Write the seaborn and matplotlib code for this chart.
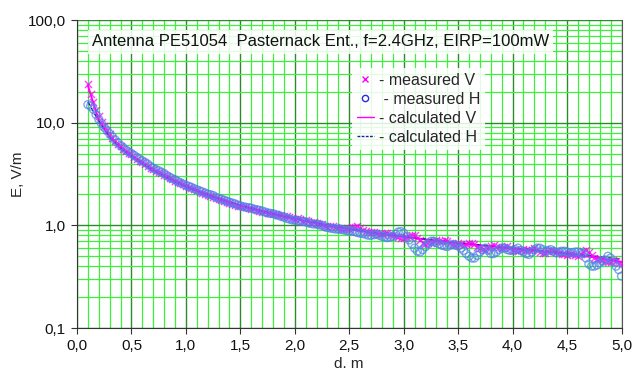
import numpy as np
import pandas as pd
import matplotlib
matplotlib.use("Agg")
import matplotlib.pyplot as plt
from matplotlib.lines import Line2D
from matplotlib.ticker import FixedLocator, LogLocator, NullFormatter
import seaborn as sns

# Measurement positions, m
distance = [
    0.100, 0.125, 0.150, 0.175, 0.200, 0.225, 0.250, 0.275, 0.300, 0.325,
    0.350, 0.375, 0.400, 0.425, 0.450, 0.475, 0.500, 0.525, 0.550, 0.575,
    0.600, 0.625, 0.650, 0.675, 0.700, 0.725, 0.750, 0.775, 0.800, 0.825,
    0.850, 0.875, 0.900, 0.925, 0.950, 0.975, 1.000, 1.025, 1.050, 1.075,
    1.100, 1.125, 1.150, 1.175, 1.200, 1.225, 1.250, 1.275, 1.300, 1.325,
    1.350, 1.375, 1.400, 1.425, 1.450, 1.475, 1.500, 1.525, 1.550, 1.575,
    1.600, 1.625, 1.650, 1.675, 1.700, 1.725, 1.750, 1.775, 1.800, 1.825,
    1.850, 1.875, 1.900, 1.925, 1.950, 1.975, 2.000, 2.025, 2.050, 2.075,
    2.100, 2.125, 2.150, 2.175, 2.200, 2.225, 2.250, 2.275, 2.300, 2.325,
    2.350, 2.375, 2.400, 2.425, 2.450, 2.475, 2.500, 2.525, 2.550, 2.575,
    2.600, 2.625, 2.650, 2.675, 2.700, 2.725, 2.750, 2.775, 2.800, 2.825,
    2.850, 2.875, 2.900, 2.925, 2.950, 2.975, 3.000, 3.025, 3.050, 3.075,
    3.100, 3.125, 3.150, 3.175, 3.200, 3.225, 3.250, 3.275, 3.300, 3.325,
    3.350, 3.375, 3.400, 3.425, 3.450, 3.475, 3.500, 3.525, 3.550, 3.575,
    3.600, 3.625, 3.650, 3.675, 3.700, 3.725, 3.750, 3.775, 3.800, 3.825,
    3.850, 3.875, 3.900, 3.925, 3.950, 3.975, 4.000, 4.025, 4.050, 4.075,
    4.100, 4.125, 4.150, 4.175, 4.200, 4.225, 4.250, 4.275, 4.300, 4.325,
    4.350, 4.375, 4.400, 4.425, 4.450, 4.475, 4.500, 4.525, 4.550, 4.575,
    4.600, 4.625, 4.650, 4.675, 4.700, 4.725, 4.750, 4.775, 4.800, 4.825,
    4.850, 4.875, 4.900, 4.925, 4.950, 4.975, 5.000,
]

# Measured field strength, V/m (vertical polarisation)
measured_v = [
    24.0, 19.0, 16.0, 13.2, 11.5, 10.2, 9.2, 8.4, 7.7, 7.1,
    6.6, 6.2, 5.9, 5.55, 5.3, 5.05, 4.9, 4.65, 4.45, 4.25,
    4.1, 3.95, 3.8, 3.65, 3.5, 3.4, 3.3, 3.2, 3.1, 3.0,
    2.9, 2.8, 2.72, 2.65, 2.58, 2.5, 2.42, 2.36, 2.3, 2.25,
    2.2, 2.13, 2.08, 2.03, 1.98, 1.93, 1.88, 1.84, 1.8, 1.77,
    1.74, 1.7, 1.66, 1.61, 1.58, 1.56, 1.53, 1.52, 1.5, 1.47,
    1.44, 1.44, 1.42, 1.38, 1.36, 1.35, 1.33, 1.31, 1.3, 1.29,
    1.27, 1.25, 1.24, 1.22, 1.2, 1.17, 1.16, 1.17, 1.14, 1.11,
    1.12, 1.09, 1.06, 1.07, 1.05, 1.04, 1.02, 0.99, 0.97, 0.99,
    0.98, 0.96, 0.95, 0.93, 0.92, 0.94, 0.93, 0.97, 0.96, 0.98,
    0.95, 0.9, 0.88, 0.87, 0.86, 0.87, 0.85, 0.83, 0.82, 0.85,
    0.84, 0.81, 0.8, 0.78, 0.77, 0.75, 0.76, 0.77, 0.78, 0.81,
    0.8, 0.76, 0.72, 0.68, 0.66, 0.67, 0.68, 0.7, 0.72, 0.71,
    0.7, 0.72, 0.71, 0.68, 0.66, 0.65, 0.67, 0.66, 0.64, 0.66,
    0.68, 0.67, 0.66, 0.62, 0.6, 0.59, 0.58, 0.6, 0.63, 0.64,
    0.62, 0.61, 0.6, 0.61, 0.63, 0.6, 0.58, 0.57, 0.56, 0.58,
    0.59, 0.58, 0.57, 0.58, 0.6, 0.57, 0.55, 0.54, 0.54, 0.56,
    0.57, 0.56, 0.55, 0.54, 0.53, 0.52, 0.51, 0.52, 0.52, 0.51,
    0.5, 0.53, 0.56, 0.57, 0.55, 0.51, 0.48, 0.47, 0.47, 0.46,
    0.45, 0.44, 0.44, 0.46, 0.45, 0.43, 0.42,
]

# Measured field strength, V/m (horizontal polarisation)
measured_h = [
    15.0, 14.5, 13.5, 12.0, 10.8, 9.8, 9.0, 8.4, 7.8, 7.3,
    6.8, 6.4, 6.0, 5.7, 5.4, 5.2, 5.0, 4.8, 4.6, 4.4,
    4.25, 4.1, 3.95, 3.75, 3.6, 3.5, 3.4, 3.3, 3.2, 3.05,
    2.95, 2.85, 2.78, 2.68, 2.6, 2.52, 2.45, 2.4, 2.35, 2.28,
    2.22, 2.17, 2.12, 2.07, 2.02, 1.99, 1.95, 1.88, 1.83, 1.8,
    1.76, 1.72, 1.68, 1.65, 1.62, 1.58, 1.55, 1.52, 1.5, 1.49,
    1.47, 1.44, 1.42, 1.4, 1.38, 1.35, 1.32, 1.31, 1.3, 1.27,
    1.25, 1.22, 1.2, 1.17, 1.15, 1.13, 1.12, 1.11, 1.1, 1.09,
    1.08, 1.06, 1.04, 1.03, 1.03, 1.01, 1.0, 0.97, 0.95, 0.94,
    0.93, 0.92, 0.92, 0.91, 0.9, 0.89, 0.88, 0.88, 0.87, 0.85,
    0.84, 0.83, 0.82, 0.8, 0.8, 0.81, 0.82, 0.8, 0.78, 0.77,
    0.76, 0.77, 0.78, 0.82, 0.86, 0.87, 0.84, 0.78, 0.72, 0.66,
    0.6, 0.56, 0.55, 0.58, 0.62, 0.66, 0.7, 0.7, 0.68, 0.66,
    0.64, 0.63, 0.62, 0.64, 0.65, 0.64, 0.63, 0.6, 0.57, 0.53,
    0.5, 0.48, 0.48, 0.51, 0.55, 0.58, 0.6, 0.57, 0.53, 0.53,
    0.55, 0.58, 0.6, 0.6, 0.58, 0.57, 0.57, 0.58, 0.6, 0.57,
    0.55, 0.53, 0.52, 0.55, 0.58, 0.6, 0.6, 0.58, 0.56, 0.57,
    0.58, 0.56, 0.54, 0.55, 0.56, 0.56, 0.55, 0.54, 0.54, 0.55,
    0.55, 0.54, 0.53, 0.48, 0.42, 0.4, 0.4, 0.41, 0.43, 0.45,
    0.46, 0.5, 0.48, 0.44, 0.4, 0.37, 0.32,
]

# Calculated field strength, V/m
calc_distance = [
    0.1, 0.2, 0.3, 0.4, 0.5, 0.6, 0.7, 0.8, 0.9, 1.0,
    1.1, 1.2, 1.3, 1.4, 1.5, 1.6, 1.7, 1.8, 1.9, 2.0,
    2.1, 2.2, 2.3, 2.4, 2.5, 2.6, 2.7, 2.8, 2.9, 3.0,
    3.1, 3.2, 3.3, 3.4, 3.5, 3.6, 3.7, 3.8, 3.9, 4.0,
    4.1, 4.2, 4.3, 4.4, 4.5, 4.6, 4.7, 4.8, 4.9, 5.0,
]
calc_v = [
    23.0, 10.5, 7.2, 5.6, 4.7, 3.95, 3.4, 3.0, 2.65, 2.38,
    2.17, 1.98, 1.82, 1.68, 1.56, 1.46, 1.37, 1.29, 1.22, 1.16,
    1.10, 1.05, 1.00, 0.96, 0.92, 0.885, 0.855, 0.825, 0.80, 0.775,
    0.75, 0.73, 0.71, 0.69, 0.67, 0.655, 0.64, 0.625, 0.61, 0.595,
    0.58, 0.57, 0.555, 0.54, 0.525, 0.51, 0.495, 0.48, 0.46, 0.44,
]
calc_h = [
    16.0, 10.3, 7.3, 5.7, 4.75, 4.0, 3.45, 3.03, 2.68, 2.4,
    2.18, 1.99, 1.83, 1.69, 1.57, 1.47, 1.38, 1.30, 1.23, 1.17,
    1.11, 1.06, 1.01, 0.97, 0.93, 0.89, 0.86, 0.83, 0.805, 0.78,
    0.755, 0.735, 0.715, 0.695, 0.675, 0.66, 0.645, 0.63, 0.615, 0.60,
    0.59, 0.575, 0.56, 0.55, 0.535, 0.52, 0.51, 0.495, 0.48, 0.465,
]

x_ticks = [0.0, 0.5, 1.0, 1.5, 2.0, 2.5, 3.0, 3.5, 4.0, 4.5, 5.0]
x_tick_labels = ["0,0", "0,5", "1,0", "1,5", "2,0", "2,5", "3,0", "3,5", "4,0", "4,5", "5,0"]
y_ticks = [0.1, 1.0, 10.0, 100.0]
y_tick_labels = ["0,1", "1,0", "10,0", "100,0"]

title_text = "Antenna PE51054  Pasternack Ent., f=2.4GHz, EIRP=100mW"

MAGENTA = "#ff00ff"
BLUE_PTS = "#4f80e8"
NAVY = "#1c1c9c"
GRID_MINOR = "#3cf03c"
GRID_MAJOR = "#2c8c2c"

sns.set_style("white")
plt.rcParams["font.family"] = ["Liberation Sans", "DejaVu Sans"]

meas = pd.DataFrame({"d": distance, "V": measured_v, "H": measured_h})
calc = pd.DataFrame({"d": calc_distance, "V": calc_v, "H": calc_h})

fig = plt.figure(figsize=(6.35, 3.76), dpi=100)
ax = fig.add_axes([77 / 635, 1 - 328 / 376, (621.5 - 77) / 635, (328 - 20) / 376])
ax.set_yscale("log")

# Calculated curves underneath, measured points on top
sns.lineplot(data=calc, x="d", y="V", color=MAGENTA, linewidth=1.4, ax=ax,
             zorder=2, legend=False)
sns.lineplot(data=calc, x="d", y="H", color=NAVY, linewidth=1.0,
             linestyle=(0, (3, 2)), ax=ax, zorder=2, legend=False)
sns.scatterplot(data=meas, x="d", y="V", marker="x", s=26, color=MAGENTA,
                linewidth=1.0, alpha=0.75, ax=ax, zorder=3, legend=False)
sns.scatterplot(data=meas, x="d", y="H", marker="o", s=32, facecolor="none",
                edgecolor=BLUE_PTS, linewidth=1.0, alpha=0.7, ax=ax, zorder=3,
                legend=False)

ax.set_xlim(0, 5.0)
ax.set_ylim(0.1, 100)

ax.xaxis.set_major_locator(FixedLocator(x_ticks))
ax.xaxis.set_minor_locator(FixedLocator([i / 10 for i in range(51)]))
ax.set_xticklabels(x_tick_labels)
ax.yaxis.set_major_locator(FixedLocator(y_ticks))
ax.yaxis.set_minor_locator(LogLocator(base=10, subs=np.arange(2, 10)))
ax.yaxis.set_minor_formatter(NullFormatter())
ax.set_yticklabels(y_tick_labels)

ax.grid(which="minor", color=GRID_MINOR, linewidth=0.9, zorder=0)
ax.grid(which="major", color=GRID_MAJOR, linewidth=1.0, zorder=0)
ax.set_axisbelow(True)

ax.tick_params(axis="both", which="major", direction="out", length=4,
               width=0.8, color="#333333", labelsize=11, pad=4,
               labelcolor="#111111", bottom=True, left=True)
ax.tick_params(axis="both", which="minor", length=0)

ax.spines["top"].set_visible(False)
ax.spines["right"].set_color("#555555")
ax.spines["left"].set_color("#333333")
ax.spines["bottom"].set_color("#333333")
for s in ax.spines.values():
    s.set_linewidth(0.8)

ax.set_xlabel("d. m", fontsize=11, labelpad=3)
ax.set_ylabel("E, V/m", fontsize=11, labelpad=2)

ax.text(0.027, 0.929, title_text, transform=ax.transAxes, fontsize=12,
        va="center", ha="left", color="#111111", zorder=6,
        bbox=dict(facecolor="white", alpha=0.85, edgecolor="none", pad=3))

handles = [
    Line2D([], [], marker="x", linestyle="none", color=MAGENTA, markersize=4.5,
           markeredgewidth=1.0),
    Line2D([], [], marker="o", linestyle="none", markerfacecolor="none",
           markeredgecolor="#2a2ae0", markersize=4.5, markeredgewidth=1.0),
    Line2D([], [], color=MAGENTA, linewidth=1.0),
    Line2D([], [], color=NAVY, linewidth=1.0, linestyle=(0, (2, 1))),
]
labels = ["- measured V", " - measured H", "- calculated V", "- calculated H"]
leg = ax.legend(handles, labels, loc="upper left", bbox_to_anchor=(0.49, 0.87),
                fontsize=11.5, frameon=True, handlelength=1.1, handletextpad=0.3,
                labelspacing=0.25, borderpad=0.3, fancybox=False)
leg.get_frame().set_facecolor("white")
leg.get_frame().set_alpha(0.85)
leg.get_frame().set_edgecolor("none")
leg.set_zorder(6)

fig.savefig("out.png", dpi=100, facecolor="white")
